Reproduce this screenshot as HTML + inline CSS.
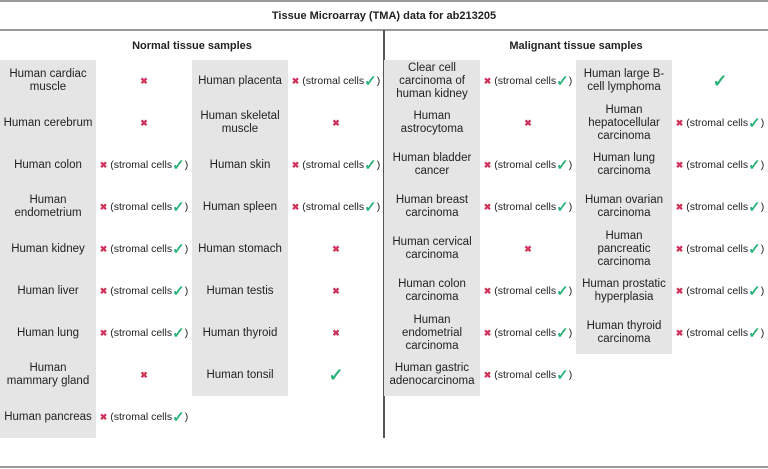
<!DOCTYPE html>
<html><head><meta charset="utf-8"><style>
body{margin:0;width:768px;height:469px;background:#fff;position:relative;overflow:hidden;font-family:"Liberation Sans",sans-serif;color:#222}
.h{position:absolute;left:0;width:768px;height:2px;background:#999}
.c{position:absolute;width:96px;height:42px;display:flex;align-items:center;justify-content:center;text-align:center;font-size:11.5px;line-height:13px;box-sizing:border-box;padding:0 3px}
.g{background:#e5e5e5}
.x{color:#d0335a;font-size:9px;font-weight:bold}
.k{color:#2db37a;font-size:15px;font-weight:bold}
.s{font-size:10.5px;white-space:nowrap;padding:0}
.t{position:absolute;font-size:11px;font-weight:bold;text-align:center}
</style></head><body>
<div class="h" style="top:0"></div>
<div class="h" style="top:29px"></div>
<div class="h" style="top:466px"></div>
<div style="position:absolute;left:383px;top:30px;width:2px;height:408px;background:#555"></div>
<div class="t" style="left:0;top:10px;width:768px">Tissue Microarray (TMA) data for ab213205</div>
<div class="t" style="left:0;top:40px;width:384px">Normal tissue samples</div>
<div class="t" style="left:384px;top:40px;width:384px">Malignant tissue samples</div>
<div class="g" style="position:absolute;left:0;top:60px;width:96px;height:378px"></div>
<div class="g" style="position:absolute;left:192px;top:60px;width:96px;height:336px"></div>
<div class="g" style="position:absolute;left:384px;top:60px;width:96px;height:336px"></div>
<div class="g" style="position:absolute;left:576px;top:60px;width:96px;height:294px"></div>

<div class="c" style="left:0;top:60px">Human cardiac muscle</div><div class="c" style="left:96px;top:60px"><span class="x">✖</span></div>
<div class="c" style="left:0;top:102px">Human cerebrum</div><div class="c" style="left:96px;top:102px"><span class="x">✖</span></div>
<div class="c" style="left:0;top:144px">Human colon</div><div class="c s" style="left:96px;top:144px"><span class="x">✖</span>&nbsp;(stromal cells <span class="k">✓</span>)</div>
<div class="c" style="left:0;top:186px">Human endometrium</div><div class="c s" style="left:96px;top:186px"><span class="x">✖</span>&nbsp;(stromal cells <span class="k">✓</span>)</div>
<div class="c" style="left:0;top:228px">Human kidney</div><div class="c s" style="left:96px;top:228px"><span class="x">✖</span>&nbsp;(stromal cells <span class="k">✓</span>)</div>
<div class="c" style="left:0;top:270px">Human liver</div><div class="c s" style="left:96px;top:270px"><span class="x">✖</span>&nbsp;(stromal cells <span class="k">✓</span>)</div>
<div class="c" style="left:0;top:312px">Human lung</div><div class="c s" style="left:96px;top:312px"><span class="x">✖</span>&nbsp;(stromal cells <span class="k">✓</span>)</div>
<div class="c" style="left:0;top:354px">Human mammary gland</div><div class="c" style="left:96px;top:354px"><span class="x">✖</span></div>
<div class="c" style="left:0;top:396px">Human pancreas</div><div class="c s" style="left:96px;top:396px"><span class="x">✖</span>&nbsp;(stromal cells <span class="k">✓</span>)</div>

<div class="c" style="left:192px;top:60px">Human placenta</div><div class="c s" style="left:288px;top:60px"><span class="x">✖</span>&nbsp;(stromal cells <span class="k">✓</span>)</div>
<div class="c" style="left:192px;top:102px">Human skeletal muscle</div><div class="c" style="left:288px;top:102px"><span class="x">✖</span></div>
<div class="c" style="left:192px;top:144px">Human skin</div><div class="c s" style="left:288px;top:144px"><span class="x">✖</span>&nbsp;(stromal cells <span class="k">✓</span>)</div>
<div class="c" style="left:192px;top:186px">Human spleen</div><div class="c s" style="left:288px;top:186px"><span class="x">✖</span>&nbsp;(stromal cells <span class="k">✓</span>)</div>
<div class="c" style="left:192px;top:228px">Human stomach</div><div class="c" style="left:288px;top:228px"><span class="x">✖</span></div>
<div class="c" style="left:192px;top:270px">Human testis</div><div class="c" style="left:288px;top:270px"><span class="x">✖</span></div>
<div class="c" style="left:192px;top:312px">Human thyroid</div><div class="c" style="left:288px;top:312px"><span class="x">✖</span></div>
<div class="c" style="left:192px;top:354px">Human tonsil</div><div class="c" style="left:288px;top:354px"><span class="k" style="font-size:18px">✓</span></div>

<div class="c" style="left:384px;top:60px">Clear cell carcinoma of human kidney</div><div class="c s" style="left:480px;top:60px"><span class="x">✖</span>&nbsp;(stromal cells <span class="k">✓</span>)</div>
<div class="c" style="left:384px;top:102px">Human astrocytoma</div><div class="c" style="left:480px;top:102px"><span class="x">✖</span></div>
<div class="c" style="left:384px;top:144px">Human bladder cancer</div><div class="c s" style="left:480px;top:144px"><span class="x">✖</span>&nbsp;(stromal cells <span class="k">✓</span>)</div>
<div class="c" style="left:384px;top:186px">Human breast carcinoma</div><div class="c s" style="left:480px;top:186px"><span class="x">✖</span>&nbsp;(stromal cells <span class="k">✓</span>)</div>
<div class="c" style="left:384px;top:228px">Human cervical carcinoma</div><div class="c" style="left:480px;top:228px"><span class="x">✖</span></div>
<div class="c" style="left:384px;top:270px">Human colon carcinoma</div><div class="c s" style="left:480px;top:270px"><span class="x">✖</span>&nbsp;(stromal cells <span class="k">✓</span>)</div>
<div class="c" style="left:384px;top:312px">Human<br>endometrial<br>carcinoma</div><div class="c s" style="left:480px;top:312px"><span class="x">✖</span>&nbsp;(stromal cells <span class="k">✓</span>)</div>
<div class="c" style="left:384px;top:354px">Human gastric adenocarcinoma</div><div class="c s" style="left:480px;top:354px"><span class="x">✖</span>&nbsp;(stromal cells <span class="k">✓</span>)</div>

<div class="c" style="left:576px;top:60px">Human large B-<br>cell lymphoma</div><div class="c" style="left:672px;top:60px"><span class="k" style="font-size:18px">✓</span></div>
<div class="c" style="left:576px;top:102px">Human hepatocellular carcinoma</div><div class="c s" style="left:672px;top:102px"><span class="x">✖</span>&nbsp;(stromal cells <span class="k">✓</span>)</div>
<div class="c" style="left:576px;top:144px">Human lung carcinoma</div><div class="c s" style="left:672px;top:144px"><span class="x">✖</span>&nbsp;(stromal cells <span class="k">✓</span>)</div>
<div class="c" style="left:576px;top:186px">Human ovarian carcinoma</div><div class="c s" style="left:672px;top:186px"><span class="x">✖</span>&nbsp;(stromal cells <span class="k">✓</span>)</div>
<div class="c" style="left:576px;top:228px">Human<br>pancreatic<br>carcinoma</div><div class="c s" style="left:672px;top:228px"><span class="x">✖</span>&nbsp;(stromal cells <span class="k">✓</span>)</div>
<div class="c" style="left:576px;top:270px">Human prostatic hyperplasia</div><div class="c s" style="left:672px;top:270px"><span class="x">✖</span>&nbsp;(stromal cells <span class="k">✓</span>)</div>
<div class="c" style="left:576px;top:312px">Human thyroid carcinoma</div><div class="c s" style="left:672px;top:312px"><span class="x">✖</span>&nbsp;(stromal cells <span class="k">✓</span>)</div>
</body></html>
